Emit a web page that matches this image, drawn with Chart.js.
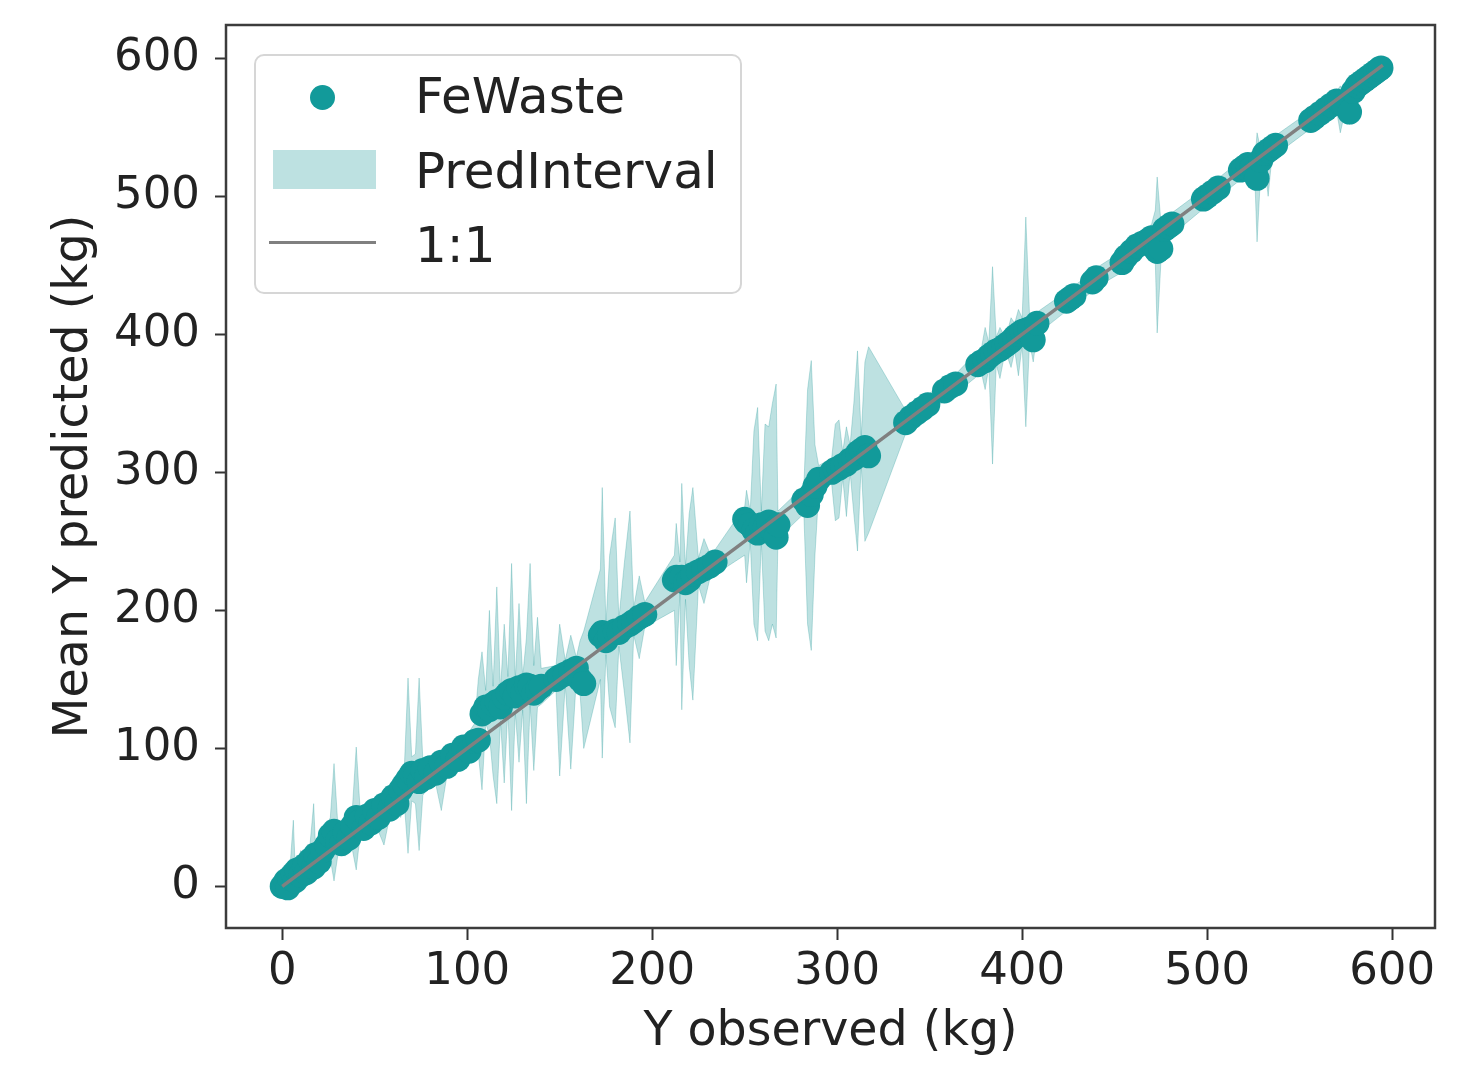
<!DOCTYPE html>
<html>
<head>
<meta charset="utf-8">
<title>FeWaste prediction</title>
<script src="https://cdn.jsdelivr.net/npm/chart.js@4.4.1/dist/chart.umd.min.js"></script>
<style>
  html, body { margin:0; padding:0; background:#ffffff; }
  #wrap { position:relative; width:1461px; height:1066px; overflow:hidden; }
  #chart { display:block; }
  #legend { position:absolute; left:254px; top:54px; width:488px; height:240px; box-sizing:border-box;
    border:2px solid #d6d6d6; border-radius:10px; background:rgba(255,255,255,0.8);
    font-family:'DejaVu Sans', sans-serif; font-size:50px; color:#222; }
  .item { position:absolute; left:0; width:100%; height:60px; }
  .sym { position:absolute; }
  .txt { position:absolute; left:159px; line-height:60px; white-space:nowrap; }
</style>
</head>
<body>
<div id="wrap">
  <canvas id="chart" width="1461" height="1066"></canvas>
  <div id="legend"></div>
</div>
<script>
// ---------------- data ----------------
const seriesNames = ['FeWaste', 'PredInterval', '1:1'];
const xTicks = [0, 100, 200, 300, 400, 500, 600];
const yTicks = [0, 100, 200, 300, 400, 500, 600];
const oneToOne = [0, 595];

const xObs = [
  0,1,2,3,4,6,7,8,10,12,13,15,17,18,20,22,24,26,28,30,32,34,36,38,40,42,44,46,48,50,52,55,58,60,62,64,66,68,70,72,74,76,78,80,83,86,89,92,95,98,101,104,
  106,108,110,112,114,116,118,120,122,124,126,128,130,132,134,136,138,140,
  148,150,153,156,159,161,163,
  172,173,175,177,180,182,185,188,190,193,196,
  212,213,215,216,218,220,222,225,228,231,234,
  250,251,253,255,257,259,261,263,265,267,268,
  282,284,286,288,290,
  297,299,301,303,305,307,309,311,313,315,317,
  337,340,343,346,349,
  358,361,364,
  376,378,380,382,384,386,388,390,392,394,396,398,400,402,404,406,408,
  424,426,428,438,440,
  454,456,459,462,465,468,470,472,473,475,477,479,481,
  498,500,503,506,518,520,522,524,526,527,529,531,533,535,537,
  556,558,561,564,567,570,572,574,577,579,581,583,585,587,589,591,593,594
];
const yPred = [
  0,1,4,-1,6,9,4,12,8,15,10,19,14,23,18,26,30,37,40,33,31,39,35,44,50,47,42,51,46,55,50,59,56,65,60,70,74,78,82,80,76,84,79,86,82,90,87,95,92,101,98,105,
  106,125,130,128,132,134,130,137,140,142,138,144,140,146,145,140,143,145,
  150,152,154,156,158,150,147,
  182,184,178,182,185,184,188,190,192,195,197,
  222,224,223,224,220,222,226,228,230,232,235,
  266,264,262,258,256,262,260,264,258,253,262,
  280,276,284,290,295,
  300,302,303,305,306,309,310,314,316,318,312,
  336,340,343,346,349,
  359,362,364,
  378,380,381,384,386,388,389,391,393,395,398,400,402,403,404,396,408,
  424,426,428,438,441,
  452,456,460,464,466,468,470,462,460,462,476,478,480,
  498,500,503,506,519,521,523,520,518,513,526,531,533,535,537,
  555,557,560,563,566,569,568,566,561,576,580,582,584,586,588,590,592,593
];
const piLow = [
  -4,-3,-3,-4,-2,0,0,4,4,6,4,8,6,12,8,14,18,20,4,22,24,22,28,26,12,36,34,38,40,42,40,30,50,52,54,50,60,24,62,60,26,66,70,72,74,55,80,84,86,90,94,96,
  96,70,118,110,80,60,120,75,128,55,126,90,128,60,132,84,130,132,
  142,80,146,85,150,140,100,
  150,93,168,130,115,174,140,104,182,165,188,
  200,160,212,128,208,160,135,218,205,222,226,
  240,220,250,190,178,250,185,178,190,180,252,
  270,190,171,240,285,
  292,265,267,296,268,300,270,243,306,250,256,
  328,332,336,340,342,
  352,355,357,
  370,372,360,376,306,378,368,382,384,376,388,370,392,333,394,380,400,
  417,419,421,431,434,
  445,448,452,456,458,460,462,452,401,452,468,470,472,
  491,493,496,499,512,514,516,510,505,467,518,524,500,528,530,
  549,551,554,556,558,562,546,558,552,568,572,575,577,579,581,583,586,588
];
const piHigh = [
  4,5,9,8,10,48,14,16,26,20,22,30,60,28,34,36,44,50,89,46,44,50,48,58,101,58,54,56,58,60,66,70,68,72,74,82,86,151,94,96,151,92,88,90,94,98,100,102,106,108,112,118,
  150,170,142,200,145,217,142,190,152,234,150,205,152,180,234,160,195,158,
  160,190,164,182,166,178,185,
  230,289,190,240,267,194,235,272,202,225,206,
  240,263,235,292,232,270,289,238,252,242,244,
  275,287,272,330,347,272,335,333,350,364,272,
  290,360,381,320,305,
  310,335,338,315,333,320,350,388,326,380,391,
  345,348,351,354,356,
  366,369,371,
  388,390,405,394,449,398,405,400,402,412,408,418,412,485,414,412,416,
  431,433,435,445,448,
  460,464,468,472,474,476,480,490,514,482,484,486,488,
  505,507,510,513,526,528,530,530,528,546,534,538,540,542,544,
  562,564,567,570,574,576,580,574,578,584,588,590,592,594,596,598,600,601
];

// ---------------- styles ----------------
const POINT_COLOR = '#129a9a';
const FILL_COLOR = 'rgba(0,139,139,0.26)';
const FILL_EDGE = 'rgba(0,139,139,0.24)';
const LINE_COLOR = '#808080';
const TEXT_COLOR = '#222222';
const FONT = "'DejaVu Sans', sans-serif";

const pts = xObs.map((x, i) => ({ x: x, y: yPred[i] }));
const lowPts = xObs.map((x, i) => ({ x: x, y: piLow[i] }));
const highPts = xObs.map((x, i) => ({ x: x, y: piHigh[i] }));
const linePts = oneToOne.map(v => ({ x: v, y: v }));

const framePlugin = {
  id: 'frame',
  afterDraw(chart) {
    const a = chart.chartArea, c = chart.ctx;
    c.save();
    c.strokeStyle = '#3c3c3c';
    c.lineWidth = 2.5;
    c.strokeRect(a.left, a.top, a.right - a.left, a.bottom - a.top);
    c.restore();
  }
};

const chart = new Chart(document.getElementById('chart'), {
  type: 'scatter',
  data: {
    datasets: [
      { label: seriesNames[0], data: pts, backgroundColor: POINT_COLOR, borderWidth: 0,
        pointRadius: 12.5, pointHoverRadius: 12.5, order: 1 },
      { label: seriesNames[1], type: 'line', data: highPts, fill: '+1', backgroundColor: FILL_COLOR,
        borderColor: FILL_EDGE, borderWidth: 1, pointRadius: 0, tension: 0, order: 3 },
      { label: seriesNames[1] + ' (lower)', type: 'line', data: lowPts, fill: false,
        borderColor: FILL_EDGE, borderWidth: 1, pointRadius: 0, tension: 0, order: 3 },
      { label: seriesNames[2], type: 'line', data: linePts, fill: false, borderColor: LINE_COLOR,
        borderWidth: 3.5, pointRadius: 0, tension: 0, order: 0 }
    ]
  },
  options: {
    responsive: false,
    animation: false,
    devicePixelRatio: 1,
    layout: { padding: { top: 25, right: 26, left: 0, bottom: 0 } },
    plugins: { legend: { display: false }, tooltip: { enabled: false } },
    scales: {
      x: {
        type: 'linear', min: -30.4, max: 623.2,
        afterBuildTicks: s => { s.ticks = xTicks.map(v => ({ value: v })); },
        afterFit: s => { s.height = 138; s.paddingLeft = 0; s.paddingRight = 0; },
        grid: { display: true, drawOnChartArea: false, drawTicks: true, tickLength: 12, tickWidth: 2, tickColor: '#333' },
        border: { display: false },
        ticks: { font: { family: FONT, size: 45 }, color: TEXT_COLOR, padding: 5, maxRotation: 0, autoSkip: false },
        title: { display: true, text: 'Y observed (kg)', font: { family: FONT, size: 47.5 }, color: TEXT_COLOR,
                 padding: { top: 0, bottom: 5 } }
      },
      y: {
        type: 'linear', min: -30.1, max: 624.1,
        afterBuildTicks: s => { s.ticks = yTicks.map(v => ({ value: v })); },
        afterFit: s => { s.width = 226; s.paddingTop = 0; s.paddingBottom = 0; },
        grid: { display: true, drawOnChartArea: false, drawTicks: true, tickLength: 11, tickWidth: 2, tickColor: '#333' },
        border: { display: false },
        ticks: { font: { family: FONT, size: 45, lineHeight: 1 }, color: TEXT_COLOR, padding: 15, autoSkip: false },
        title: { display: true, text: 'Mean Y predicted (kg)', font: { family: FONT, size: 47.5 }, color: TEXT_COLOR,
                 padding: { top: 46, bottom: 0 } }
      }
    }
  },
  plugins: [framePlugin]
});

// ---------------- legend (built from the chart's datasets) ----------------
(function buildLegend() {
  const ds = chart.data.datasets;
  const legend = document.getElementById('legend');
  const rows = [
    { d: ds[0], kind: 'dot', top: 10 },
    { d: ds[1], kind: 'patch', top: 85 },
    { d: ds[3], kind: 'line', top: 159 }
  ];
  rows.forEach(r => {
    const item = document.createElement('div');
    item.className = 'item';
    item.style.top = r.top + 'px';
    const sym = document.createElement('div');
    sym.className = 'sym';
    if (r.kind === 'dot') {
      Object.assign(sym.style, { left: '54px', top: '19px', width: '25px', height: '25px',
        borderRadius: '50%', background: r.d.backgroundColor });
    } else if (r.kind === 'patch') {
      Object.assign(sym.style, { left: '17px', top: '9px', width: '103px', height: '39px',
        background: r.d.backgroundColor });
    } else {
      Object.assign(sym.style, { left: '13px', top: '26px', width: '107px', height: '3px',
        background: r.d.borderColor });
    }
    const txt = document.createElement('div');
    txt.className = 'txt';
    txt.textContent = r.d.label;
    item.appendChild(sym);
    item.appendChild(txt);
    legend.appendChild(item);
  });
})();
</script>
</body>
</html>
